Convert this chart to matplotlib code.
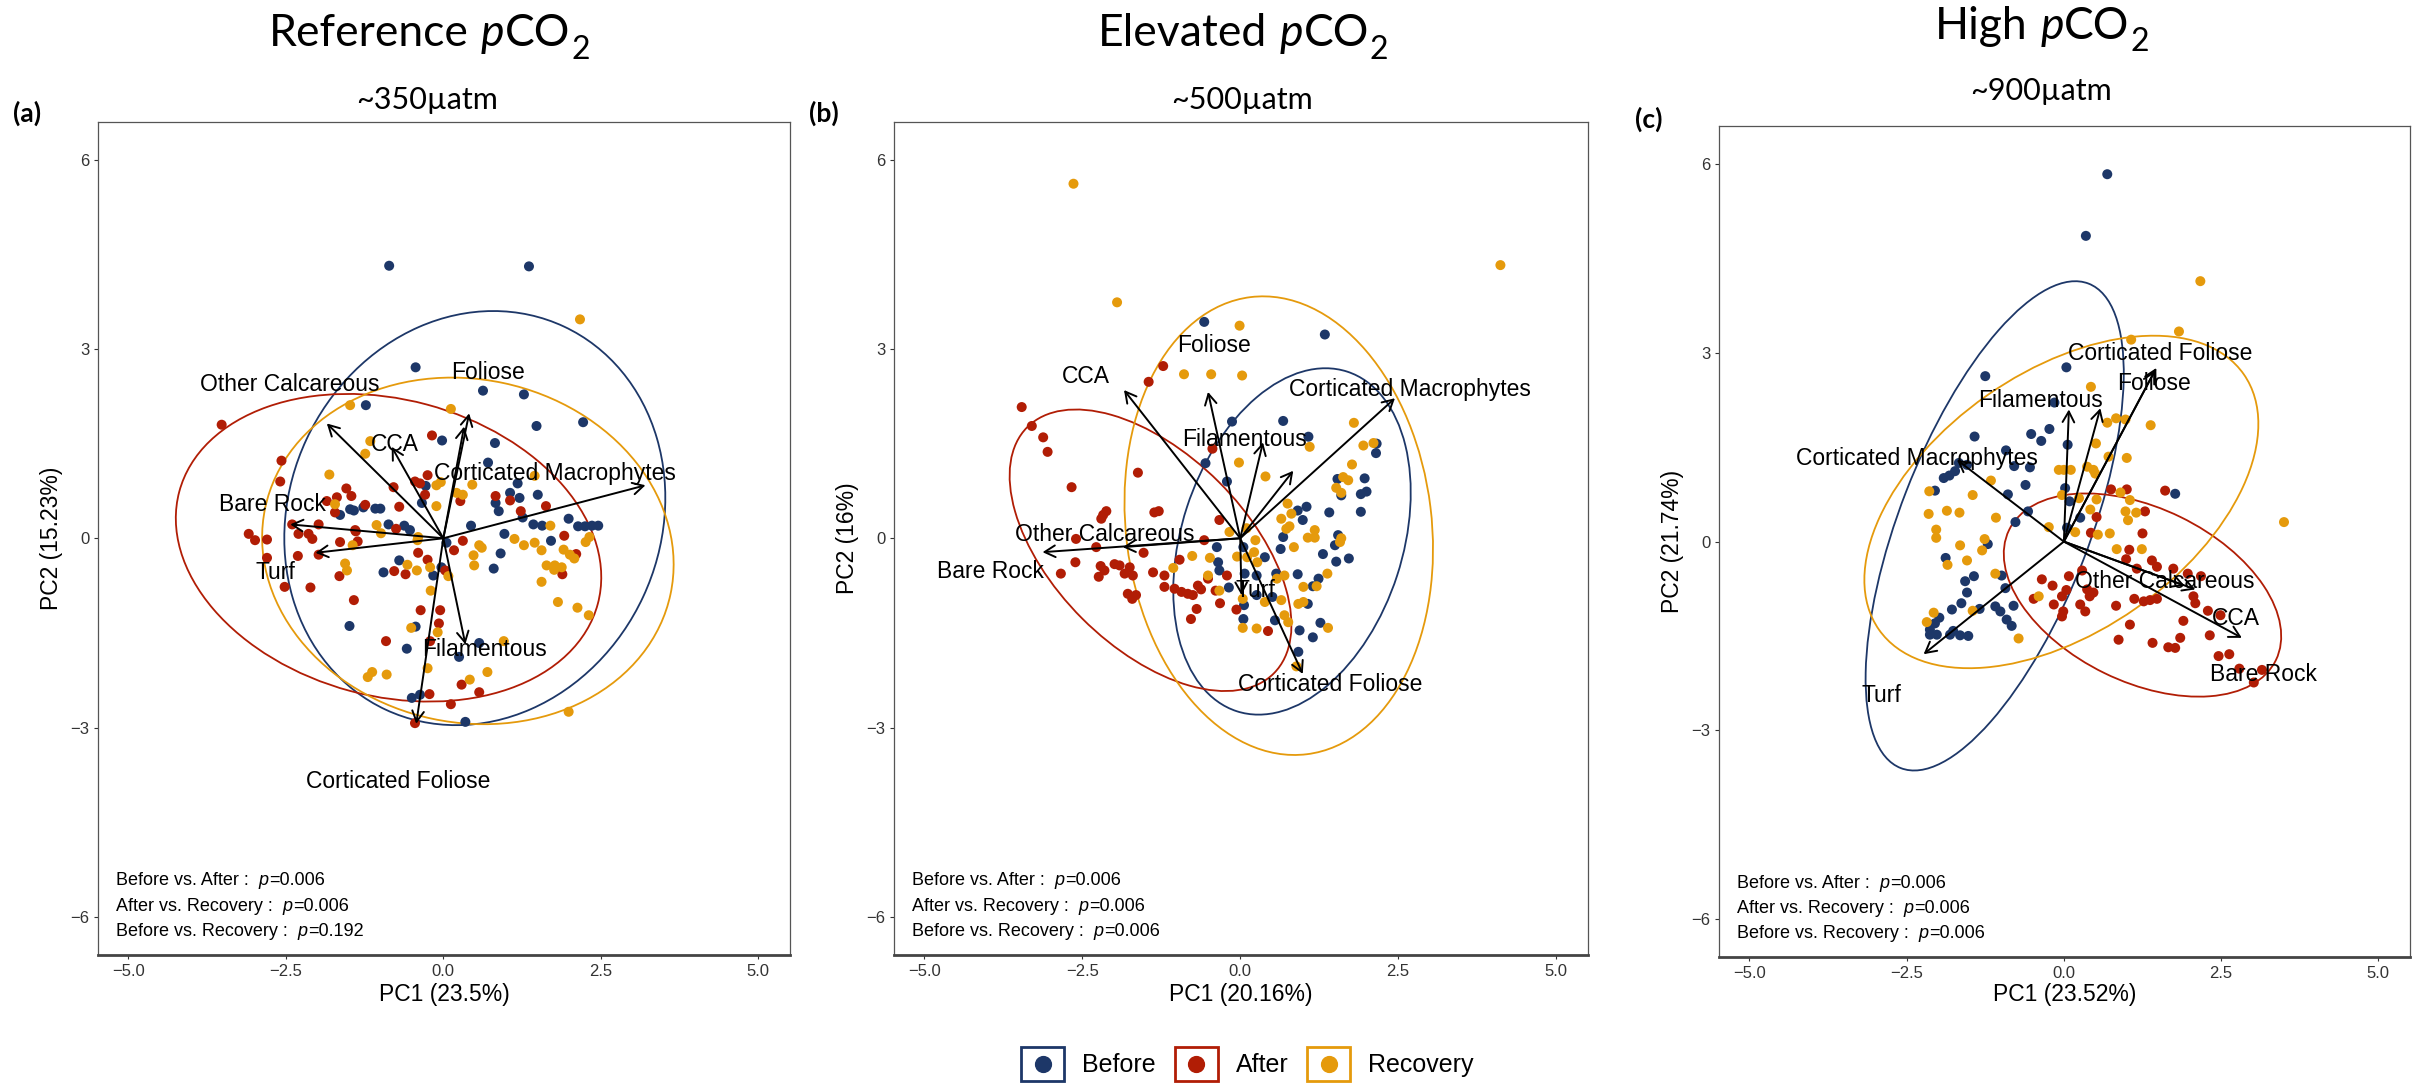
import matplotlib
matplotlib.use("Agg")
import matplotlib.pyplot as plt
from matplotlib.patches import Ellipse, Rectangle
from matplotlib.lines import Line2D
from matplotlib.legend_handler import HandlerBase
import numpy as np

W, H, DPI = 2425, 1084, 100
SANS = ["Liberation Sans", "DejaVu Sans"]
TITLEF = ["Lato", "DejaVu Sans"]
plt.rcParams["font.family"] = SANS

# ---------------- data ----------------
groups = ["Before", "After", "Recovery"]
group_colors = ["#1d3768", "#b11d05", "#e59a0c"]
panel_letters = ["(a)", "(b)", "(c)"]
title_words = ["Reference", "Elevated", "High"]
subtitles = ["~350µatm", "~500µatm", "~900µatm"]
pc1_labels = ["PC1 (23.5%)", "PC1 (20.16%)", "PC1 (23.52%)"]
pc2_labels = ["PC2 (15.23%)", "PC2 (16%)", "PC2 (21.74%)"]
stat_pairs = ["Before vs. After :", "After vs. Recovery :", "Before vs. Recovery :"]
p_values = [["0.006", "0.006", "0.192"], ["0.006", "0.006", "0.006"], ["0.006", "0.006", "0.006"]]
xticks = [-5.0, -2.5, 0.0, 2.5, 5.0]
yticks = [-6, -3, 0, 3, 6]

# Panel (a) scores
a_before = [(-0.86,4.32),(1.36,4.31),(-0.44,2.71),(0.63,2.34),(1.28,2.28),(-1.23,2.11),(1.48,1.78),(2.22,1.84),
            (-0.02,1.55),(0.82,1.51),(0.71,1.20),(-0.28,0.83),(1.18,0.87),(1.06,0.72),(1.21,0.64),(1.50,0.69),
            (0.83,0.56),(0.88,0.43),(-0.34,0.56),(-1.48,0.46),(-1.42,0.44),(-1.27,0.49),(-1.08,0.47),(-1.00,0.47),
            (-1.64,0.37),(1.26,0.33),(1.99,0.31),(0.44,0.20),(1.43,0.22),(1.57,0.20),(2.14,0.19),(2.25,0.19),
            (2.36,0.20),(2.46,0.20),(-0.87,0.22),(-0.62,0.20),(-0.53,0.13),(0.97,0.07),(1.71,-0.04),(0.91,-0.24),
            (0.80,-0.48),(-0.70,-0.35),(-0.95,-0.54),(-0.16,-0.59),(-0.03,-0.46),(0.05,-0.07),(-1.49,-1.39),
            (-0.44,-1.40),(-0.58,-1.75),(0.57,-1.66),(0.25,-1.88),(-0.50,-2.53),(-0.37,-2.48),(0.35,-2.91)]
a_after = [(-3.52,1.80),(-2.57,1.23),(-2.59,0.90),(-0.18,1.63),(-0.25,1.00),(-0.45,0.90),(-0.37,0.87),(-0.29,0.69),
           (-0.79,0.81),(-1.54,0.79),(-1.46,0.67),(-1.69,0.65),(-1.85,0.59),(-1.24,0.53),(-1.72,0.41),(-0.70,0.50),
           (0.27,0.59),(0.83,0.67),(1.06,0.60),(1.23,0.43),(1.63,0.51),(-1.98,0.22),(-2.40,0.22),(-0.75,0.15),
           (-1.40,0.13),(-3.09,0.07),(-2.99,-0.03),(-2.80,-0.02),(-2.30,0.07),(-2.14,0.07),(-2.08,-0.01),(-1.64,-0.06),
           (-1.39,0.11),(-1.36,-0.05),(-2.31,-0.28),(-1.98,-0.26),(-2.80,-0.31),(-2.52,-0.77),(-2.11,-0.78),(-1.65,-0.60),
           (-1.42,-0.98),(-0.78,-0.52),(-0.60,-0.57),(-0.40,-0.23),(-0.25,-0.34),(0.03,-0.51),(0.17,-0.19),(0.31,-0.04),
           (1.92,0.04),(2.11,-0.25),(1.89,-0.57),(-0.36,-1.14),(-0.05,-1.14),(-0.07,-1.35),(-0.91,-1.63),(-0.21,-1.63),
           (0.29,-2.32),(0.57,-2.44),(-0.22,-2.47),(0.12,-2.63),(-0.45,-2.93)]
a_recovery = [(2.17,3.47),(-1.48,2.11),(0.12,2.05),(-1.16,1.54),(-1.24,1.34),(-1.81,1.01),(1.45,0.99),(0.46,0.85),
              (-0.11,0.84),(-0.04,0.89),(0.21,0.72),(0.31,0.69),(-0.11,0.51),(-1.72,0.54),(-1.06,0.21),(1.70,0.20),
              (-0.99,0.08),(-0.40,0.02),(-0.41,-0.03),(1.13,-0.01),(1.28,-0.11),(1.45,-0.07),(1.56,-0.19),(1.91,-0.18),
              (2.01,-0.26),(2.08,-0.32),(2.26,-0.06),(2.32,0.02),(0.57,-0.11),(0.61,-0.15),(0.48,-0.27),(0.49,-0.43),
              (1.64,-0.43),(1.77,-0.43),(1.76,-0.50),(1.88,-0.46),(1.56,-0.69),(1.82,-1.01),(2.13,-1.10),(2.31,-1.22),
              (-1.56,-0.40),(-1.53,-0.51),(-1.44,-0.11),(-0.57,-0.42),(-0.42,-0.51),(-0.21,-0.46),(0.08,-0.60),
              (-0.20,-0.83),(-0.51,-1.42),(-0.09,-1.49),(0.96,-1.63),(-0.25,-2.06),(-1.13,-2.12),(-1.20,-2.20),
              (-0.90,-2.16),(0.70,-2.12),(0.42,-2.24),(1.99,-2.75)]

# Panel (b) scores
b_before = [(-0.57,3.43),(1.34,3.23),(-0.13,1.85),(0.68,1.86),(1.08,1.61),(2.16,1.50),(2.15,1.35),(-0.55,1.19),
            (-0.21,0.90),(1.54,0.94),(1.97,0.95),(2.00,0.74),(1.91,0.70),(1.60,0.68),(0.91,0.44),(1.05,0.50),
            (0.99,0.29),(1.41,0.41),(1.91,0.42),(0.68,0.02),(1.55,0.05),(1.50,-0.11),(1.31,-0.25),(1.52,-0.37),
            (1.72,-0.32),(0.64,-0.17),(0.39,-0.30),(0.05,-0.14),(-0.37,-0.14),(-0.35,-0.38),(-0.33,-0.51),(0.07,-0.56),
            (0.26,-0.59),(0.57,-0.56),(0.91,-0.57),(1.24,-0.64),(1.15,-0.76),(-0.18,-0.78),(0.26,-0.90),(0.51,-0.93),
            (1.07,-1.04),(0.06,-1.06),(0.05,-1.28),(0.55,-1.30),(0.94,-1.46),(1.27,-1.34),(1.15,-1.57),(0.92,-1.80)]
b_after = [(-1.22,2.73),(-1.45,2.48),(-3.46,2.08),(-3.30,1.78),(-3.12,1.60),(-3.05,1.37),(-0.44,1.42),(-1.62,1.04),
           (-2.67,0.81),(-2.12,0.43),(-2.17,0.37),(-2.20,0.31),(-1.36,0.41),(-1.29,0.43),(-0.33,0.29),(-2.60,-0.01),
           (-2.28,-0.14),(-1.53,-0.23),(-0.57,-0.03),(-0.96,-0.34),(-2.61,-0.38),(-2.84,-0.56),(-2.21,-0.44),
           (-2.15,-0.51),(-2.24,-0.61),(-1.99,-0.41),(-1.91,-0.43),(-1.83,-0.56),(-1.75,-0.46),(-1.70,-0.59),
           (-1.38,-0.54),(-1.20,-0.59),(-1.20,-0.77),(-1.04,-0.80),(-0.93,-0.85),(-0.83,-0.88),(-0.75,-0.90),
           (-0.67,-0.75),(-0.62,-0.81),(-0.51,-0.64),(-0.39,-0.83),(-0.21,-0.59),(-1.78,-0.88),(-1.71,-0.96),
           (-1.65,-0.90),(-0.32,-1.03),(-0.06,-1.13),(-0.69,-1.12),(-0.78,-1.28),(0.44,-1.47)]
b_recovery = [(-2.64,5.62),(4.12,4.33),(-1.95,3.74),(-0.01,3.37),(-0.89,2.60),(-0.46,2.60),(0.03,2.58),(1.80,1.83),
              (1.10,1.45),(1.95,1.47),(2.11,1.51),(-0.02,1.20),(0.40,0.98),(1.77,1.17),(1.63,0.97),(1.71,0.92),
              (1.52,0.80),(1.60,0.72),(0.75,0.55),(0.65,0.31),(0.81,0.39),(0.73,0.15),(0.78,0.19),(0.10,0.16),
              (-0.17,0.10),(0.24,-0.03),(1.18,0.13),(1.07,0.01),(1.18,0.01),(0.85,-0.14),(1.58,-0.06),(1.60,0.00),
              (0.22,-0.22),(-0.05,-0.29),(0.11,-0.30),(0.27,-0.38),(-0.76,-0.28),(-0.48,-0.31),(-1.06,-0.47),
              (-0.51,-0.59),(0.70,-0.59),(0.58,-0.64),(1.38,-0.56),(1.21,-0.76),(1.00,-0.77),(-0.33,-0.83),
              (0.04,-0.96),(0.39,-1.01),(0.65,-0.98),(0.70,-1.22),(0.92,-1.04),(1.00,-1.01),(0.04,-1.42),
              (0.26,-1.43),(1.39,-1.42),(0.89,-2.03),(0.76,-1.33)]

# Panel (c) scores
c_before = [(0.69,5.84),(0.35,4.86),(-1.25,2.63),(0.04,2.77),(-0.15,2.21),(-1.42,1.67),(-0.52,1.71),(-0.23,1.79),
            (-0.36,1.60),(0.06,1.54),(-0.92,1.45),(-1.67,1.25),(-1.54,1.22),(-1.91,1.01),(-1.82,1.05),(-1.73,1.12),
            (-0.79,1.20),(-0.54,1.18),(-0.61,0.90),(-2.05,0.81),(-0.89,0.75),(-0.57,0.48),(-0.77,0.31),(-1.21,-0.04),
            (-1.88,-0.26),(0.02,0.85),(0.09,0.64),(0.26,0.38),(0.05,0.22),(1.77,0.76),(-1.43,-0.55),(-1.57,-0.63),
            (-1.54,-0.81),(-0.99,-0.54),(-0.93,-0.74),(-1.78,-1.08),(-1.63,-0.98),(-1.34,-1.07),(-1.09,-1.03),
            (-1.01,-1.11),(-0.91,-1.24),(-0.83,-1.34),(-0.80,-1.02),(-1.98,-1.21),(-2.05,-1.30),(-2.13,-1.40),
            (-2.13,-1.48),(-2.02,-1.48),(-1.81,-1.48),(-1.65,-1.49),(-1.52,-1.50),(-1.76,-1.42)]
c_after = [(0.75,0.83),(1.00,0.83),(1.61,0.81),(1.29,0.48),(0.52,0.39),(0.43,0.14),(1.25,0.13),(1.04,-0.13),
           (0.99,-0.28),(1.40,-0.30),(1.48,-0.40),(1.74,-0.43),(1.16,-0.43),(1.97,-0.51),(2.18,-0.55),(-0.35,-0.60),
           (-0.18,-0.70),(0.08,-0.55),(0.29,-0.46),(0.37,-0.76),(0.47,-0.81),(0.41,-0.87),(-0.48,-0.91),(-0.03,-0.87),
           (0.04,-0.77),(-0.16,-1.00),(-0.01,-1.11),(-0.03,-1.19),(0.26,-1.00),(0.34,-1.11),(0.83,-1.02),(1.12,-0.91),
           (1.27,-0.95),(1.37,-0.93),(1.48,-0.91),(2.06,-0.87),(2.09,-0.98),(2.29,-1.10),(2.49,-1.17),(1.05,-1.32),
           (1.90,-1.26),(2.32,-1.49),(0.87,-1.56),(1.41,-1.61),(1.66,-1.68),(1.77,-1.69),(1.85,-1.53),(2.46,-1.82),
           (2.63,-1.79),(2.79,-2.02),(3.15,-2.04),(3.02,-2.24)]
c_recovery = [(2.17,4.14),(1.83,3.34),(1.07,3.21),(3.50,0.31),(0.43,2.46),(1.38,1.85),(0.69,1.89),(0.83,1.96),
              (0.98,1.94),(0.51,1.56),(0.71,1.35),(1.00,1.33),(-0.08,1.14),(0.00,1.14),(0.11,1.14),(0.37,1.19),
              (0.47,1.14),(0.50,1.08),(-1.16,0.97),(-2.14,0.80),(-1.45,0.74),(-0.03,0.74),(0.24,0.69),(0.52,0.67),
              (0.42,0.51),(0.90,0.78),(1.05,0.66),(0.98,0.48),(1.15,0.46),(1.02,0.34),(-2.15,0.44),(-1.86,0.49),
              (-1.66,0.46),(-1.08,0.38),(-2.03,0.19),(-2.03,0.06),(-0.24,0.23),(0.18,0.15),(0.73,0.13),(0.54,0.11),
              (0.84,-0.12),(1.24,-0.12),(-1.65,-0.06),(-1.30,-0.14),(-1.26,0.04),(-1.54,-0.30),(-1.85,-0.37),
              (-1.09,-0.51),(-1.45,-1.10),(-0.40,-0.87),(-2.18,-1.28),(-2.07,-1.13),(-0.72,-1.54)]

# Confidence ellipses: (centre x, centre y, width, height, angle) per group
a_ellipses = [(0.50, 0.32, 6.7, 5.9, 65), (-0.87, -0.15, 6.88, 4.7, -15), (0.39, -0.20, 6.58, 5.44, -12)]
b_ellipses = [(0.82, -0.05, 5.66, 3.5, 72), (-1.42, -0.19, 5.52, 3.06, -45), (0.61, 0.20, 7.3, 4.84, 97)]
c_ellipses = [(-1.10, 0.25, 8.26, 3.02, 68.8), (1.25, -0.85, 4.72, 2.76, -26), (-0.04, 0.63, 7.08, 4.13, 35)]

# Loadings (arrow tips) and label centres
a_load_names = ["Other Calcareous", "CCA", "Foliose", "", "Corticated Macrophytes", "Bare Rock", "Turf",
                "Filamentous", "Corticated Foliose"]
a_load_x = [-1.85, -0.82, 0.41, 0.33, 3.21, -2.43, -2.03, 0.35, -0.43]
a_load_y = [1.82, 1.45, 1.98, 1.77, 0.84, 0.22, -0.23, -1.68, -2.94]
a_lab_x = [-2.44, -0.77, 0.71, 0.0, 1.77, -2.71, -2.67, 0.66, -0.72]
a_lab_y = [2.44, 1.48, 2.63, 0.0, 1.02, 0.54, -0.55, -1.76, -3.85]

b_load_names = ["CCA", "Foliose", "Filamentous", "", "Corticated Macrophytes", "Other Calcareous", "Bare Rock",
                "Turf", "Corticated Foliose"]
b_load_x = [-1.84, -0.51, 0.36, 0.84, 2.45, -1.86, -3.13, 0.02, 0.99]
b_load_y = [2.35, 2.32, 1.52, 1.07, 2.22, -0.14, -0.22, -0.90, -2.15]
b_lab_x = [-2.44, -0.41, 0.07, 0.0, 2.68, -2.14, -3.95, 0.24, 1.43]
b_lab_y = [2.56, 3.06, 1.56, 0.0, 2.36, 0.06, -0.53, -0.83, -2.32]

c_load_names = ["Filamentous", "", "Foliose", "Corticated Foliose", "Corticated Macrophytes", "Turf",
                "Other Calcareous", "CCA", "Bare Rock"]
c_load_x = [0.08, 0.58, 1.45, 1.47, -1.70, -2.23, 2.09, 2.83, 1.92]
c_load_y = [2.10, 2.12, 2.72, 2.76, 1.30, -1.79, -0.76, -1.53, -0.70]
c_lab_x = [-0.37, 0.0, 1.43, 1.53, -2.33, -2.90, 1.61, 2.73, 3.18]
c_lab_y = [2.24, 0.0, 2.52, 2.99, 1.32, -2.45, -0.64, -1.22, -2.12]

# ---------------- layout (figure pixels: left, top, right, bottom) ----------------
ax_boxes = [(97.6, 121.9, 790.3, 955.3), (893.5, 121.9, 1588.2, 955.3), (1718.6, 126.4, 2410.4, 957.4)]
title_pos = [(429, 46.5), (1243, 46.5), (2042, 38.6)]
sub_pos = [(427, 108.5), (1241.6, 108.5), (2041.4, 99.9)]
letter_pos = [(13, 113), (809, 113), (1635, 119)]
XLIM = (-5.49, 5.51)
YLIM = (-6.61, 6.60)

fig = plt.figure(figsize=(W / DPI, H / DPI), dpi=DPI)

panels = [
    (a_before, a_after, a_recovery, a_ellipses, a_load_names, a_load_x, a_load_y, a_lab_x, a_lab_y),
    (b_before, b_after, b_recovery, b_ellipses, b_load_names, b_load_x, b_load_y, b_lab_x, b_lab_y),
    (c_before, c_after, c_recovery, c_ellipses, c_load_names, c_load_x, c_load_y, c_lab_x, c_lab_y),
]


def chain(ax, x, y, pieces, coords):
    """pieces: list of (text, kwargs, gap_pts, dy_pts)."""
    arts = []
    prev = None
    for txt, kw, gap, dy in pieces:
        if prev is None:
            a = ax.annotate(txt, xy=(x, y), xycoords=coords, xytext=(0, dy), textcoords="offset points",
                            ha="left", va="baseline", annotation_clip=False, **kw)
        else:
            a = ax.annotate(txt, xy=(1, y), xycoords=(prev, coords), xytext=(gap, dy),
                            textcoords="offset points", ha="left", va="baseline", annotation_clip=False, **kw)
        arts.append(a)
        prev = a
    return arts


title_chains = []
for i, (scores_b, scores_a, scores_r, ells, names, lx, ly, tx, ty) in enumerate(panels):
    l, t, r, b = ax_boxes[i]
    ax = fig.add_axes([l / W, 1 - b / H, (r - l) / W, (b - t) / H])
    ax.set_xlim(*XLIM)
    ax.set_ylim(*YLIM)

    # ellipses
    for (cx, cy, ew, eh, ang), col in zip(ells, group_colors):
        ax.add_patch(Ellipse((cx, cy), ew, eh, angle=ang, fill=False, edgecolor=col, lw=1.3, zorder=1))
    # points
    for sc, col in zip([scores_b, scores_a, scores_r], group_colors):
        arr = np.array(sc)
        ax.scatter(arr[:, 0], arr[:, 1], s=52, color=col, edgecolors="none", zorder=2)
    # loadings arrows
    for nm, x1, y1, xt, yt in zip(names, lx, ly, tx, ty):
        ax.annotate("", xy=(x1, y1), xytext=(0, 0),
                    arrowprops=dict(arrowstyle="->,head_length=0.55,head_width=0.3", lw=1.4, color="black",
                                    shrinkA=0, shrinkB=0, mutation_scale=14), zorder=3)
        if nm:
            ax.text(xt, yt, nm, ha="center", va="center", fontsize=16.5, color="black", zorder=4)

    # stats text
    for k, (pair, pv) in enumerate(zip(stat_pairs, p_values[i])):
        chain(ax, -5.2, -5.5 - 0.4 * k,
              [(pair, dict(fontsize=13), 0, 0),
               ("p", dict(fontsize=13, style="italic"), 7, 0),
               ("=" + pv, dict(fontsize=13), 0.3, 0)], "data")

    # axes styling
    ax.set_xticks(xticks)
    ax.set_yticks(yticks)
    ax.tick_params(length=3, width=0.8, color="#333333", labelsize=12, labelcolor="#333333", pad=3)
    for side in ["top", "right", "left"]:
        ax.spines[side].set_color("#555555")
        ax.spines[side].set_linewidth(0.9)
    ax.spines["bottom"].set_color("#444444")
    ax.spines["bottom"].set_linewidth(2.0)
    ax.set_xlabel(pc1_labels[i], fontsize=16.5, va="baseline")
    ax.xaxis.set_label_coords(0.5, (b - 1001.5) / (b - t))
    ax.set_ylabel(pc2_labels[i], fontsize=16.5, va="center")
    ax.yaxis.set_label_coords(-0.066, 0.5)

    # titles
    tx0, ty0 = title_pos[i]
    arts = chain(ax, tx0, H - ty0,
                 [(title_words[i], dict(fontsize=32, family=TITLEF), 0, 0),
                  ("p", dict(fontsize=32, family=TITLEF, style="italic"), 9, 0),
                  ("CO", dict(fontsize=32, family=TITLEF), 0.5, 0),
                  ("2", dict(fontsize=23, family=TITLEF), 0.5, -9)], "figure pixels")
    title_chains.append((arts, tx0, H - ty0))
    sx, sy = sub_pos[i]
    fig.text(sx / W, 1 - sy / H, subtitles[i], ha="center", va="baseline", fontsize=22, family=TITLEF)
    px, py = letter_pos[i]
    fig.text(px / W, 1 - py / H, panel_letters[i], ha="left", va="center", fontsize=19,
             fontweight="bold", family=TITLEF)


# legend with boxed dot keys
class BoxDotHandler(HandlerBase):
    def create_artists(self, legend, orig_handle, xdescent, ydescent, width, height, fontsize, trans):
        c = orig_handle.get_color()
        rect = Rectangle((-xdescent, -ydescent), width, height, facecolor="white", edgecolor=c,
                         linewidth=2.0, transform=trans)
        dot = Line2D([-xdescent + width / 2], [-ydescent + height / 2], marker="o", markersize=11.4,
                     color=c, linestyle="none", transform=trans)
        return [rect, dot]


handles = [Line2D([], [], color=c) for c in group_colors]
fig.legend(handles, groups, loc="center", bbox_to_anchor=(1247.5 / W, 1 - 1064 / H), ncol=3, frameon=False,
           fontsize=18, handlelength=1.72, handleheight=1.72, handletextpad=0.72, columnspacing=0.76,
           borderpad=0, handler_map={Line2D: BoxDotHandler()})

# centre titles
fig.canvas.draw()
for arts, cx, y in title_chains:
    bbs = [a.get_window_extent() for a in arts]
    x0 = min(bb.x0 for bb in bbs)
    x1 = max(bb.x1 for bb in bbs)
    shift = cx - (x0 + x1) / 2
    arts[0].xy = (cx + shift, y)

fig.savefig("out.png", dpi=DPI)
